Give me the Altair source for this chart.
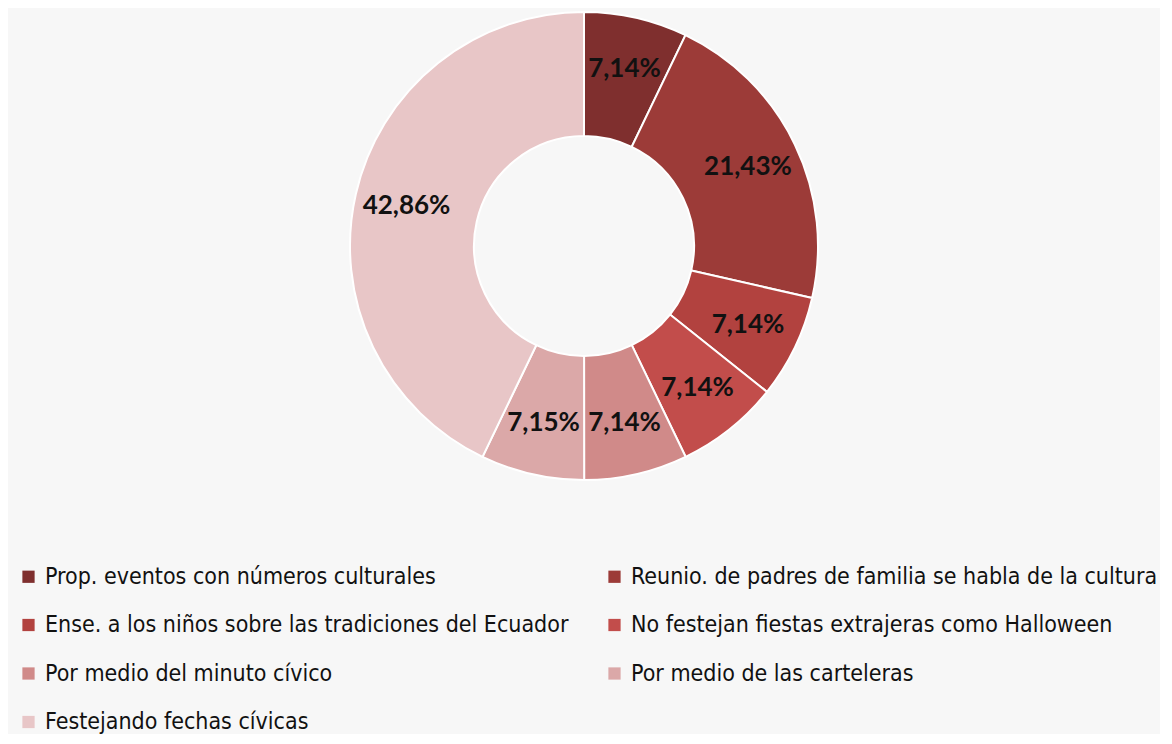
import altair as alt
import pandas as pd

categories = [
    "Prop. eventos con números culturales",
    "Reunio. de padres de familia se habla de la cultura",
    "Ense. a los niños sobre las tradiciones del Ecuador",
    "No festejan fiestas extrajeras como Halloween",
    "Por medio del minuto cívico",
    "Por medio de las carteleras",
    "Festejando fechas cívicas",
]
values = [7.14, 21.43, 7.14, 7.14, 7.14, 7.15, 42.86]
labels = ["7,14%", "21,43%", "7,14%", "7,14%", "7,14%", "7,15%", "42,86%"]
colors = ["#7f2f2e", "#9c3b38", "#b2423f", "#c24d4b", "#d08a89", "#dba8a8", "#e8c6c7"]

# legend is laid out column by column: left column first, then right column
legend_order = [0, 2, 4, 6, 1, 3, 5]
legend_domain = [categories[i] for i in legend_order]
legend_range = [colors[i] for i in legend_order]

df = pd.DataFrame({
    "cat": categories,
    "value": values,
    "label": labels,
    "order": list(range(len(categories))),
})

base = alt.Chart(df).encode(
    theta=alt.Theta("value:Q", stack=True),
    order=alt.Order("order:Q", sort="ascending"),
)

arcs = base.mark_arc(innerRadius=110, outerRadius=234, stroke="white", strokeWidth=2).encode(
    color=alt.Color(
        "cat:N",
        scale=alt.Scale(domain=legend_domain, range=legend_range),
        legend=alt.Legend(
            title=None,
            orient="none",
            legendX=9,
            legendY=554,
            columns=2,
            symbolType="square",
            symbolSize=150,
            symbolStrokeWidth=0,
            labelFont="DejaVu Sans Condensed",
            labelFontSize=23,
            labelColor="#111111",
            labelLimit=700,
            rowPadding=24.5,
            columnPadding=34,
            symbolOffset=0,
            labelOffset=5,
        ),
    )
)

text = base.mark_text(radius=182, font="Lato", fontWeight="bold", fontSize=26, color="#111111").encode(
    text="label:N"
)

chart = (arcs + text).properties(
    width=1152, height=470, background="#f7f7f7", padding=0
).configure_view(stroke=None)

chart.save("out.html", embed_options={"renderer": "svg", "actions": False})
